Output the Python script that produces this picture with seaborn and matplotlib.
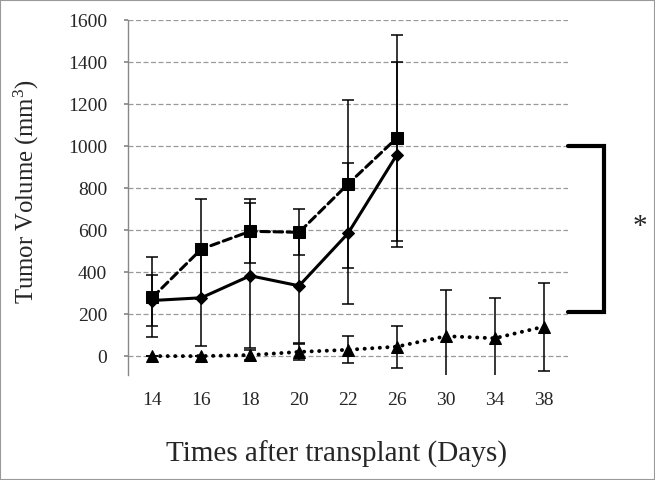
import numpy as np
import pandas as pd
import seaborn as sns
import matplotlib.pyplot as plt
from matplotlib.patches import Rectangle

# -----------------------------------------------------------------------------
# Data
# -----------------------------------------------------------------------------

days = ["14", "16", "18", "20", "22", "26", "30", "34", "38"]

square_vals = [280, 510, 595, 590, 820, 1040]
square_err = [190, 240, 153, 110, 400, 490]

diamond_vals = [265, 278, 383, 335, 585, 960]
diamond_err = [120, 230, 345, 273, 335, 440]

triangle_vals = [0, 0, 5, 20, 30, 45, 95, 85, 140]
triangle_err = [0, 0, 25, 38, 65, 100, 220, 190, 210]

y_ticks = [0, 200, 400, 600, 800, 1000, 1200, 1400, 1600]

# -----------------------------------------------------------------------------
# Plot
# -----------------------------------------------------------------------------

sns.set_theme(style="white")
plt.rcParams["font.family"] = ["Liberation Serif", "DejaVu Serif"]
plt.rcParams["mathtext.fontset"] = "custom"
plt.rcParams["mathtext.rm"] = "Liberation Serif"
plt.rcParams["mathtext.it"] = "Liberation Serif:italic"

fig = plt.figure(figsize=(6.55, 4.8), dpi=100)
ax = fig.add_axes([0.1954, 0.2188, 0.6718, 0.7395])

series = [
    ("triangle", triangle_vals, triangle_err, "^", 8.5, (0, (0.05, 1.9)), 2.8),
    ("diamond", diamond_vals, diamond_err, "D", 6.3, "-", 2.2),
    ("square", square_vals, square_err, "s", 8.5, (0, (2.8, 1.5)), 2.2),
]

for name, vals, err, marker, ms, ls, lw in series:
    df = pd.DataFrame({"pos": np.arange(len(vals)), "volume": vals, "err": err})
    ax.errorbar(df["pos"], df["volume"], yerr=df["err"], fmt="none",
                ecolor="black", elinewidth=1.1, capsize=4, capthick=1.1,
                zorder=2)
    sns.lineplot(data=df, x="pos", y="volume", ax=ax, color="black",
                 marker=marker, markersize=ms, markeredgecolor="black",
                 linestyle=ls, linewidth=lw, dash_capstyle="round",
                 errorbar=None, zorder=3)

ax.set_xlim(-0.5, len(days) - 0.5)
ax.set_ylim(-90, 1602)
ax.set_xticks(range(len(days)), days)
ax.set_yticks(y_ticks)
ax.set_xlabel("")
ax.set_ylabel("")

ax.yaxis.grid(True, linestyle=(0, (4, 2)), color="#9a9a9a", linewidth=0.9)
ax.set_axisbelow(True)
for side in ["top", "right", "bottom"]:
    ax.spines[side].set_visible(False)
ax.spines["left"].set_color("#888888")
ax.spines["left"].set_linewidth(1.0)

ax.tick_params(axis="y", length=3, color="#888888", pad=12, labelsize=14,
               left=True)
ax.tick_params(axis="x", length=0, pad=12, labelsize=14)

# significance bracket
ax.plot([8.5, 9.24, 9.24, 8.5], [1000, 1000, 210, 210], color="black",
        linewidth=3, clip_on=False, solid_joinstyle="miter")
ax.text(9.97, 615, "*", fontsize=21, ha="center", va="center", clip_on=False)

fig.text(0.041, 0.6, r"Tumor Volume (mm$^{\mathrm{3}}$)", rotation=90,
         fontsize=17.8, ha="center", va="center")
fig.text(0.513, 0.054, "Times after transplant (Days)", fontsize=21,
         ha="center", va="center")

fig.patches.append(Rectangle((0, 0), 1, 1, transform=fig.transFigure,
                             fill=False, edgecolor="#999999", linewidth=1.5))

fig.savefig("out.png", dpi=100)
